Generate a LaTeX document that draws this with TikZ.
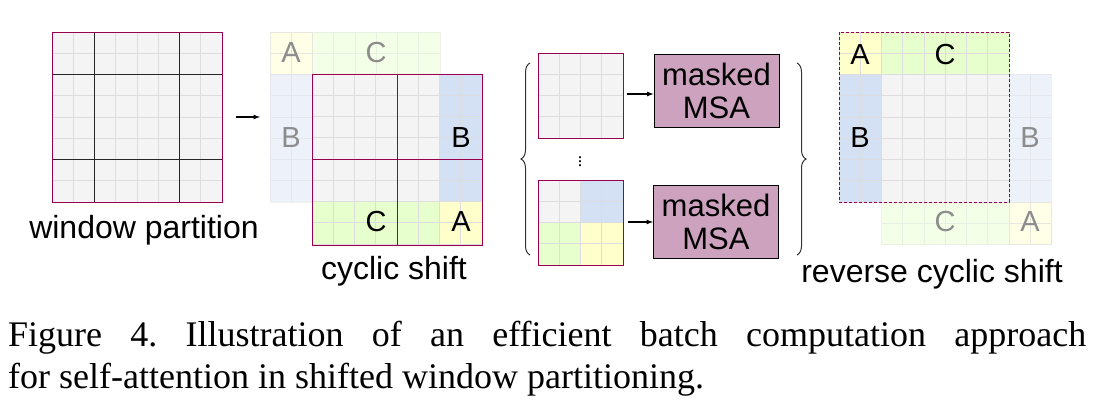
\documentclass[tikz,border=0pt]{standalone}
\usepackage{fontspec}
\setmainfont{Liberation Serif}
\newfontfamily\lsans{Liberation Sans}
\usetikzlibrary{decorations.pathreplacing}
\definecolor{cgray}{HTML}{F4F4F4}
\definecolor{cline}{HTML}{DDDDDD}
\definecolor{cframe}{HTML}{99004D}
\definecolor{cblue}{HTML}{D4E1F5}
\definecolor{cgreen}{HTML}{E6FFCC}
\definecolor{cyellow}{HTML}{FFFFCC}
\definecolor{cmsa}{HTML}{CDA2BE}
\tikzset{
  cellgrid/.style={draw=cline, line width=0.8pt},
  frame/.style={draw=cframe, line width=1pt},
  lbl/.style={font=\lsans\fontsize{29}{29}\selectfont, text=black},
  glbl/.style={font=\lsans\fontsize{29}{29}\selectfont, text=black!45},
  capt/.style={font=\lsans\fontsize{32}{32}\selectfont},
  msa/.style={draw=black, line width=1pt, fill=cmsa, minimum width=125pt, minimum height=73pt, align=center, font=\lsans\fontsize{31}{33}\selectfont, inner sep=0pt},
  arr/.style={-latex, line width=1.2pt},
  brc/.style={decorate, decoration={brace, amplitude=9pt}, line width=1pt, draw=black!80},
  pale/.style={opacity=0.45}
}
\begin{document}
\frenchspacing
\begin{tikzpicture}[x=1pt,y=-1pt]
\useasboundingbox (0,0) rectangle (1096,413);
\def\s{21.25}
% ---------- window partition
\fill[cgray] (52,32) rectangle (222,202);
\draw[cellgrid, step=\s pt, shift={(52pt,-32pt)}] (0,0) grid (170,170);
\draw[black!85, line width=1pt] (94.5,32) -- (94.5,202) (179.5,32) -- (179.5,202) (52,74.5) -- (222,74.5) (52,159.5) -- (222,159.5);
\draw[frame] (52,32) rectangle (222,202);
\node[capt] (wp) at (144,230) {window partition};
\coordinate (a1s) at (236,117);
\coordinate (a1e) at (260,117);
\draw[arr] (a1s) -- (a1e);
% ---------- cyclic shift
\begin{scope}[pale]
\fill[cyellow] (270,32) rectangle (312,74);
\fill[cgreen] (312,32) rectangle (440,74);
\fill[cblue] (270,74) rectangle (312,202);
\end{scope}
\draw[cellgrid, pale, step=\s pt, shift={(270pt,-32pt)}] (0,0) grid (170,42.5);
\draw[cellgrid, pale, step=\s pt, shift={(270pt,-32pt)}] (0,0) grid (42.5,170);
\fill[cgray] (312,74) rectangle (482,245);
\fill[cblue] (440,74) rectangle (482,202);
\fill[cgreen] (312,202) rectangle (440,245);
\fill[cyellow] (440,202) rectangle (482,245);
\draw[cellgrid, step=\s pt, shift={(312pt,-74pt)}] (0,0) grid (170,170);
\draw[frame] (312,74) rectangle (482,245);
\draw[frame] (397,74) -- (397,245) (312,159) -- (482,159);
\node[glbl] (ga) at (291,53) {A};
\node[glbl] (gc) at (376,53) {C};
\node[glbl] (gb) at (291,138) {B};
\node[lbl] (cb) at (461,138) {B};
\node[lbl] (cc) at (376,222) {C};
\node[lbl] (ca) at (461,222) {A};
\node[capt] (cs) at (394,271) {cyclic shift};
% ---------- braces and batch
\draw[brc] (530,255) -- (530,63);
\draw[brc] (797,63) -- (797,255);
\fill[cgray] (538,53) rectangle (623,138);
\draw[cellgrid, step=\s pt, shift={(538pt,-53pt)}] (0,0) grid (85,85);
\draw[frame] (538,53) rectangle (623,138);
\node[font=\fontsize{18}{18}\selectfont, inner sep=0pt] (dots) at (580,159) {$\vdots$};
\fill[cgray] (538,180) rectangle (580.5,222.5);
\fill[cblue] (580.5,180) rectangle (623,222.5);
\fill[cgreen] (538,222.5) rectangle (580.5,265);
\fill[cyellow] (580.5,222.5) rectangle (623,265);
\draw[cellgrid, step=\s pt, shift={(538pt,-180pt)}] (0,0) grid (85,85);
\draw[frame] (538,180) rectangle (623,265);
\node[msa] (m1) at (716.5,91) {masked\\MSA};
\node[msa] (m2) at (716,222) {masked\\MSA};
\coordinate (w1) at (627,94);
\coordinate (w2) at (628,222);
\draw[arr] (w1) -- (m1.west |- w1);
\draw[arr] (w2) -- (m2.west |- w2);
% ---------- reverse cyclic shift
\begin{scope}[pale]
\fill[cblue] (1009,74) rectangle (1051,202);
\fill[cgreen] (882,202) rectangle (1009,245);
\fill[cyellow] (1009,202) rectangle (1051,245);
\end{scope}
\draw[cellgrid, pale, step=\s pt, shift={(839pt,-32pt)}] (170,42.5) grid (212.5,212.5);
\draw[cellgrid, pale, step=\s pt, shift={(839pt,-32pt)}] (42.5,170) grid (212.5,212.5);
\fill[cgray] (839,32) rectangle (1009,202);
\fill[cyellow] (839,32) rectangle (881.5,74.5);
\fill[cgreen] (881.5,32) rectangle (1009,74.5);
\fill[cblue] (839,74.5) rectangle (881.5,202);
\draw[cellgrid, step=\s pt, shift={(839pt,-32pt)}] (0,0) grid (170,170);
\draw[frame, dash pattern=on 3pt off 2pt] (839,32) rectangle (1009,202);
\node[lbl] (ra) at (860,55) {A};
\node[lbl] (rc) at (945,55) {C};
\node[lbl] (rb) at (860,138) {B};
\node[glbl] (rgb) at (1030,138) {B};
\node[glbl] (rgc) at (945,222) {C};
\node[glbl] (rga) at (1030,222) {A};
\node[capt] (rcs) at (932,274) {reverse cyclic shift};
% ---------- caption
\node[anchor=west, inner sep=0pt, font=\fontsize{36}{36}\selectfont] (cap1) at (8,338) {\makebox[1078pt][s]{Figure 4. Illustration of an efficient batch computation approach}};
\node[anchor=west, inner sep=0pt, font=\fontsize{36}{36}\selectfont] (cap2) at (8,380) {for self-attention in shifted window partitioning.};
\end{tikzpicture}
\end{document}
